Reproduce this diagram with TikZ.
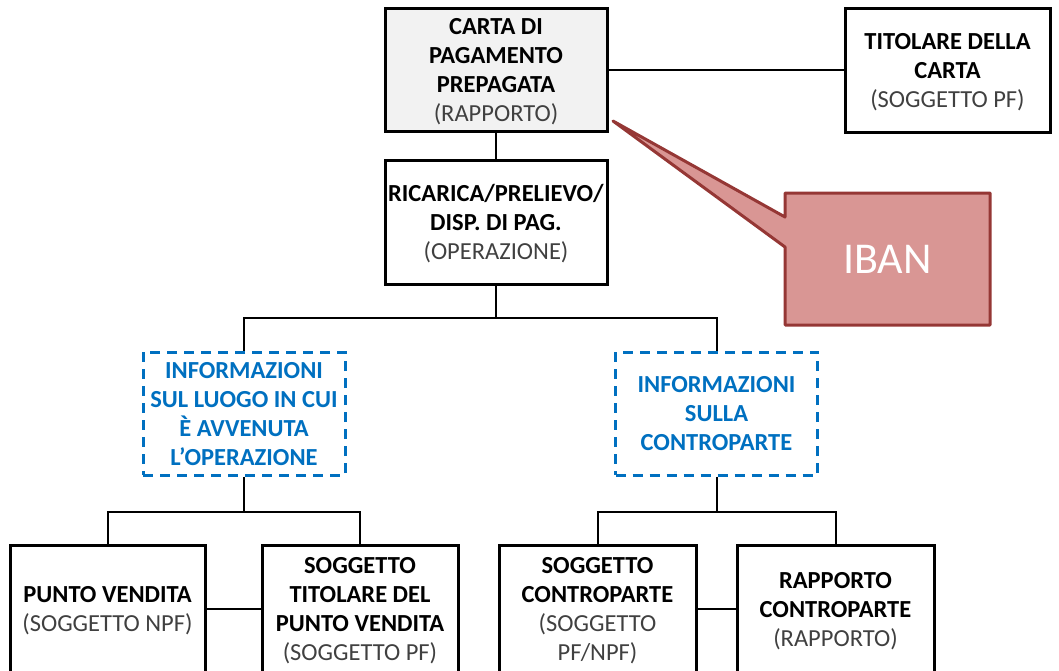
\documentclass[tikz,border=0pt]{standalone}
\usepackage{fontspec}
\setmainfont{Carlito}
\usetikzlibrary{positioning}
\definecolor{bordo}{HTML}{953735}
\definecolor{rosa}{HTML}{D99694}
\definecolor{blu}{HTML}{0070C0}
\definecolor{grigio}{HTML}{404040}
\definecolor{sfondo}{HTML}{F2F2F2}
\newcommand{\ruolo}[1]{\textcolor{grigio}{#1}}

\begin{document}
\begin{tikzpicture}[x=1pt, y=-1pt,
	box/.style={draw, line width=3pt, align=center, inner sep=0pt, text depth=-1pt, minimum height=123pt, font=\fontsize{24.5}{29}\selectfont},
	info/.style={draw=blu, dash pattern=on 10pt off 7pt, line width=3pt, text=blu, align=center, inner sep=0pt, text depth=-7pt, minimum width=202pt, minimum height=123pt, font=\fontsize{24.5}{29}\selectfont\bfseries},
	link/.style={line width=2pt}]
	\useasboundingbox (0,0) rectangle (1059,670);
	% rapporto e titolare
	\node[box, fill=sfondo, minimum width=222pt] (carta) at (496,69.5) {\textbf{CARTA DI}\\\textbf{PAGAMENTO}\\\textbf{PREPAGATA}\\\ruolo{(RAPPORTO)}};
	\node[box, minimum width=205pt, minimum height=124pt] (titolare) at (947.5,70) {\textbf{TITOLARE DELLA}\\\textbf{CARTA}\\\ruolo{(SOGGETTO PF)}};
	\node[box, minimum width=222pt, minimum height=124pt] (ricarica) at (496,222) {\textbf{RICARICA/PRELIEVO/}\\\textbf{DISP. DI PAG.}\\\ruolo{(OPERAZIONE)}};
	% informazioni
	\node[info] (luogo) at (244,413.5) {INFORMAZIONI\\SUL LUOGO IN CUI\\È AVVENUTA\\L’OPERAZIONE};
	\node[info] (controparte) at (716.5,413.5) {INFORMAZIONI\\SULLA\\CONTROPARTE};
	% soggetti
	\node[box, minimum width=195pt, minimum height=128pt] (pv) at (107.5,609) {\textbf{PUNTO VENDITA}\\\ruolo{(SOGGETTO NPF)}};
	\node[box, minimum width=196pt, minimum height=128pt] (stpv) at (360,609) {\textbf{SOGGETTO}\\\textbf{TITOLARE DEL}\\\textbf{PUNTO VENDITA}\\\ruolo{(SOGGETTO PF)}};
	\node[box, minimum width=197pt, minimum height=128pt] (scp) at (597.5,609) {\textbf{SOGGETTO}\\\textbf{CONTROPARTE}\\\ruolo{(SOGGETTO}\\\ruolo{PF/NPF)}};
	\node[box, minimum width=197pt, minimum height=128pt] (rcp) at (835.5,609) {\textbf{RAPPORTO}\\\textbf{CONTROPARTE}\\\ruolo{(RAPPORTO)}};
	% collegamenti
	\coordinate (bivio) at (496,318);
	\coordinate (bivioL) at (244,512);
	\coordinate (bivioR) at (716.5,512);
	\draw[link] (carta.east) -- (carta.east -| titolare.west);
	\draw[link] (carta) -- (ricarica);
	\draw[link] (ricarica) -- (bivio);
	\draw[link] (luogo.north) |- (bivio) -| (controparte.north);
	\draw[link] (luogo) -- (bivioL);
	\draw[link] (pv.north) |- (bivioL) -| (stpv.north);
	\draw[link] (controparte) -- (bivioR);
	\draw[link] (scp.north) |- (bivioR) -| (rcp.north);
	\draw[link] (pv) -- (stpv);
	\draw[link] (scp) -- (rcp);
	% callout
	\draw[draw=bordo, fill=rosa, line width=3pt, line join=round] (785,193) -- (990,193) -- (990,325) -- (785,325) -- (785,247) -- (613,121) -- (785,217) -- cycle;
	\node[text=white, font=\fontsize{44}{44}\selectfont] (iban) at (887.5,259) {IBAN};
\end{tikzpicture}
\end{document}
